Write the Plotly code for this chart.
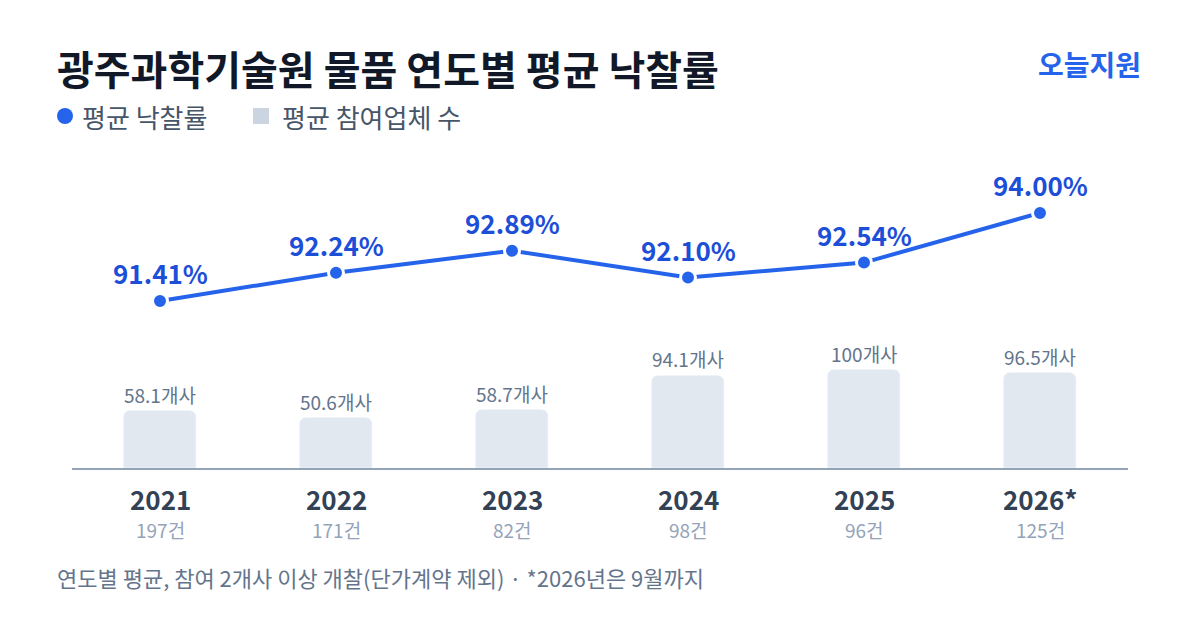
import plotly.graph_objects as go

# Data
years = ["2021", "2022", "2023", "2024", "2025", "2026*"]
win_rate = [91.41, 92.24, 92.89, 92.10, 92.54, 94.00]
bidders = [58.1, 50.6, 58.7, 94.1, 100, 96.5]
counts = [197, 171, 82, 98, 96, 125]

FONT = "Noto Sans CJK KR"
BLUE = "#2563eb"

# the page puts the figure 8px in from the window corner
OFF = 8
W, H = 1200, 630
plot_l, plot_r, plot_t, plot_b = 72 - OFF, 1128 - OFF, 150 - OFF, 468 - OFF
pw, ph = plot_r - plot_l, plot_b - plot_t


def px(x, y):
    """window pixel -> paper coords"""
    return (x - OFF - plot_l) / pw, (plot_b - (y - OFF)) / ph


fig = go.Figure()

# Bars: average number of bidders
fig.add_trace(go.Bar(
    x=years, y=bidders,
    marker=dict(color="#e2e8f0", cornerradius=6),
    width=0.41, hoverinfo="skip",
))

# Line: average winning rate
fig.add_trace(go.Scatter(
    x=years, y=win_rate, yaxis="y2",
    mode="lines+markers",
    line=dict(color=BLUE, width=4),
    marker=dict(size=15, color=BLUE, line=dict(color="white", width=3)),
    hoverinfo="skip",
))

annotations = []
for i, v in enumerate(win_rate):
    annotations.append(dict(
        x=i, y=v, xref="x", yref="y2", text=f"<b>{v:.2f}%</b>",
        showarrow=False, yshift=28,
        font=dict(family=FONT, size=26, color="#1d4ed8"),
    ))
for i, b in enumerate(bidders):
    annotations.append(dict(
        x=i, y=b, xref="x", yref="y", text=f"{b:g}개사",
        showarrow=False, yshift=17,
        font=dict(family=FONT, size=19, color="#64748b"),
    ))
_, y_year = px(0, 498)
_, y_cnt = px(0, 529)
for i, (yr, c) in enumerate(zip(years, counts)):
    annotations.append(dict(
        x=i, y=y_year, xref="x", yref="paper", text=f"<b>{yr}</b>",
        showarrow=False, yanchor="middle",
        font=dict(family=FONT, size=26, color="#334155"),
    ))
    annotations.append(dict(
        x=i, y=y_cnt, xref="x", yref="paper", text=f"{c}건",
        showarrow=False, yanchor="middle",
        font=dict(family=FONT, size=19, color="#94a3b8"),
    ))


def text_at(x, y, text, size, color, anchor="left"):
    xx, yy = px(x, y)
    return dict(x=xx, y=yy, xref="paper", yref="paper", text=text,
                showarrow=False, xanchor=anchor, yanchor="middle",
                font=dict(family=FONT, size=size, color=color))


annotations += [
    text_at(55, 68, "<b>광주과학기술원 물품 연도별 평균 낙찰률</b>", 40, "#111827"),
    text_at(1143, 64, "<b>오늘지원</b>", 28, BLUE, anchor="right"),
    text_at(80, 116, "평균 낙찰률", 26, "#475569"),
    text_at(280, 116, "평균 참여업체 수", 26, "#475569"),
    text_at(55, 577, "연도별 평균, 참여 2개사 이상 개찰(단가계약 제외) · *2026년은 9월까지", 22, "#64748b"),
]

c0 = px(57, 124)
c1 = px(73, 108)
r0 = px(253, 124)
r1 = px(269, 108)

fig.update_layout(
    width=W, height=H,
    margin=dict(l=plot_l, r=W - plot_r, t=plot_t, b=H - plot_b),
    paper_bgcolor="white", plot_bgcolor="white",
    showlegend=False, bargap=0,
    font=dict(family=FONT),
    xaxis=dict(type="category", showticklabels=False, showgrid=False, zeroline=False,
               showline=True, linecolor="#94a3b8", linewidth=2,
               range=[-0.5, 5.5], fixedrange=True),
    yaxis=dict(range=[0, 324.5], visible=False, fixedrange=True),
    yaxis2=dict(range=[86.498, 95.851], overlaying="y", visible=False, fixedrange=True),
    annotations=annotations,
    shapes=[
        dict(type="circle", xref="paper", yref="paper",
             x0=c0[0], x1=c1[0], y0=c0[1], y1=c1[1],
             fillcolor=BLUE, line=dict(width=0)),
        dict(type="rect", xref="paper", yref="paper",
             x0=r0[0], x1=r1[0], y0=r0[1], y1=r1[1],
             fillcolor="#cbd5e1", line=dict(width=0)),
    ],
)

fig.write_html("out.html")
